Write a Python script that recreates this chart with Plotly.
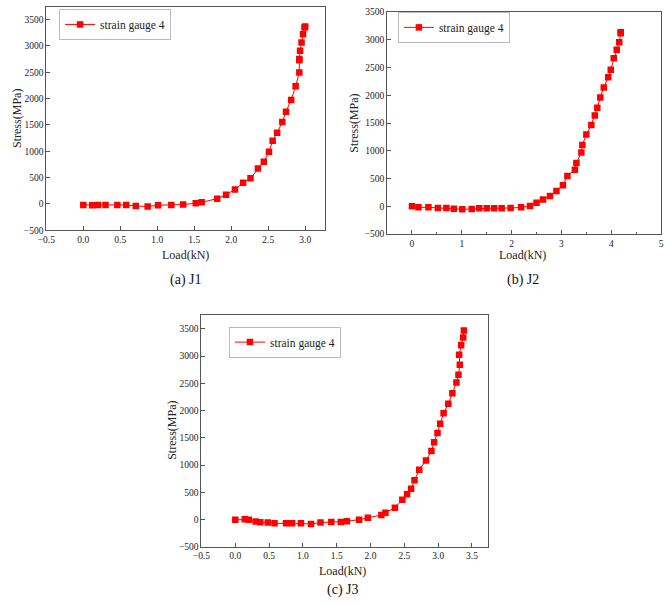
import plotly.graph_objects as go

# ---- data ----
j1_load = [0.0, 0.12, 0.20, 0.30, 0.46, 0.58, 0.71, 0.87, 1.01, 1.19, 1.35, 1.52, 1.60,
           1.81, 1.93, 2.05, 2.16, 2.26, 2.36, 2.44, 2.51, 2.56, 2.62, 2.69, 2.74, 2.81,
           2.87, 2.92, 2.92, 2.92, 2.93, 2.95, 2.97, 2.99, 3.00]
j1_stress = [-20, -25, -20, -20, -20, -20, -40, -50, -25, -20, -12, 12, 30,
             100, 175, 275, 400, 485, 670, 800, 990, 1200, 1350, 1555, 1750, 1975,
             2235, 2495, 2730, 2750, 2910, 3065, 3220, 3350, 3370]

j2_load = [0.0, 0.13, 0.33, 0.52, 0.69, 0.84, 1.01, 1.20, 1.35, 1.50, 1.65, 1.80, 1.98,
           2.19, 2.37, 2.50, 2.63, 2.77, 2.90, 3.03, 3.12, 3.27, 3.30, 3.40, 3.42, 3.50,
           3.60, 3.67, 3.72, 3.78, 3.85, 3.94, 3.99, 4.05, 4.11, 4.16, 4.19, 4.19]
j2_stress = [0, -18, -18, -29, -29, -41, -53, -47, -35, -35, -35, -35, -29,
             -18, 6, 65, 124, 188, 276, 382, 547, 659, 782, 970, 1106, 1294,
             1465, 1635, 1776, 1959, 2141, 2323, 2459, 2665, 2818, 2953, 3117, 3135]

j3_load = [0.0, 0.14, 0.20, 0.30, 0.37, 0.48, 0.58, 0.75, 0.84, 0.97, 1.12, 1.26, 1.42,
           1.56, 1.65, 1.83, 1.96, 2.16, 2.22, 2.36, 2.47, 2.54, 2.60, 2.65, 2.72, 2.82,
           2.90, 2.94, 2.99, 3.03, 3.08, 3.15, 3.21, 3.27, 3.30, 3.32, 3.31, 3.34, 3.37, 3.38]
j3_stress = [0, 6, 0, -36, -48, -54, -66, -66, -66, -66, -78, -54, -42,
             -42, -30, 0, 36, 84, 127, 217, 367, 464, 566, 723, 916, 1084,
             1259, 1422, 1590, 1759, 1952, 2127, 2319, 2518, 2657, 2843, 3024, 3199, 3343, 3470]

series_name = "strain gauge 4"
captions = ["(a) J1", "(b) J2", "(c) J3"]
x_title = "Load(kN)"
y_title = "Stress(MPa)"

W, H = 668, 606
FONT = "Liberation Serif, Times New Roman, serif"
RED = "#FF0000"

# panel frames in pixels: (left, right, top, bottom)
frames = [(38, 322, 2, 229), (385, 664, 7, 233), (196, 488, 315, 551)]
xranges = [[-0.5, 3.27], [-0.5, 5.0], [-0.5, 3.74]]
yranges = [[-500, 3740], [-500, 3500], [-500, 3758]]
xdticks = [0.5, 1, 0.5]
xticks0 = [-0.5, 0, -0.5]
legend_pos = [(51, 4), (396, 7), (224, 327)]
caption_pos = [(180, 280), (523, 280), (340, 595)]
xtitle_pos = [(180, 254), (523, 254), (340, 576)]
ytitle_pos = [(8, 115), (351, 120), (166, 433)]

data = [(j1_load, j1_stress), (j2_load, j2_stress), (j3_load, j3_stress)]

fig = go.Figure()
annotations = []
for i, (xs, ys) in enumerate(data):
    sfx = "" if i == 0 else str(i + 1)
    fig.add_trace(go.Scatter(
        x=xs, y=ys, mode="lines+markers", name=series_name,
        line=dict(color=RED, width=1),
        marker=dict(symbol="square", size=6.5, color=RED),
        xaxis="x" + sfx, yaxis="y" + sfx,
        legend="legend" + sfx,
    ))
    l, r, t, b = frames[i]
    ax = dict(
        domain=[l / W, r / W], range=xranges[i], tick0=xticks0[i], dtick=xdticks[i],
        showgrid=False, zeroline=False, showline=True, linecolor="#555", linewidth=1,
        mirror=True, ticks="inside", ticklen=4, tickcolor="#555",
        minor=dict(ticks="inside", ticklen=2, tickcolor="#555", nticks=2),
        tickfont=dict(family=FONT, size=9.5, color="#222"),
        anchor="y" + sfx,
    )
    if i == 0 or i == 2:
        ax["tickformat"] = ".1f"
    ay = dict(
        domain=[1 - b / H, 1 - t / H], range=yranges[i], tick0=-500, dtick=500,
        showgrid=False, zeroline=False, showline=True, linecolor="#555", linewidth=1,
        mirror=True, ticks="inside", ticklen=4, tickcolor="#555",
        minor=dict(ticks="inside", ticklen=2, tickcolor="#555", nticks=2),
        tickfont=dict(family=FONT, size=9.5, color="#222"),
        anchor="x" + sfx,
    )
    fig.layout["xaxis" + sfx] = ax
    fig.layout["yaxis" + sfx] = ay
    lx, ly = legend_pos[i]
    fig.layout["legend" + sfx] = dict(
        x=lx / W, y=1 - ly / H, xanchor="left", yanchor="top",
        bordercolor="#BBBBBB", borderwidth=1, bgcolor="white",
        font=dict(family=FONT, size=11.5, color="#222"),
        itemwidth=30, tracegroupgap=0,
    )
    cx, cy = caption_pos[i]
    annotations.append(dict(text=captions[i], x=cx / W, y=1 - cy / H, xref="paper", yref="paper",
                            xanchor="center", yanchor="middle",
                            showarrow=False, font=dict(family=FONT, size=14, color="#111")))
    tx, ty = xtitle_pos[i]
    annotations.append(dict(text=x_title, x=tx / W, y=1 - ty / H, xref="paper", yref="paper",
                            xanchor="center", yanchor="middle",
                            showarrow=False, font=dict(family=FONT, size=12, color="#222")))
    yx, yy = ytitle_pos[i]
    annotations.append(dict(text=y_title, x=yx / W, y=1 - yy / H, xref="paper", yref="paper",
                            xanchor="center", yanchor="middle",
                            showarrow=False, textangle=-90,
                            font=dict(family=FONT, size=12, color="#222")))

fig.update_layout(
    width=W, height=H, margin=dict(l=0, r=0, t=0, b=0),
    paper_bgcolor="white", plot_bgcolor="white",
    annotations=annotations, showlegend=True, hovermode=False,
)
fig.write_html("out.html", config={"displayModeBar": False, "staticPlot": True},
               post_script="document.body.style.margin='0px';")
